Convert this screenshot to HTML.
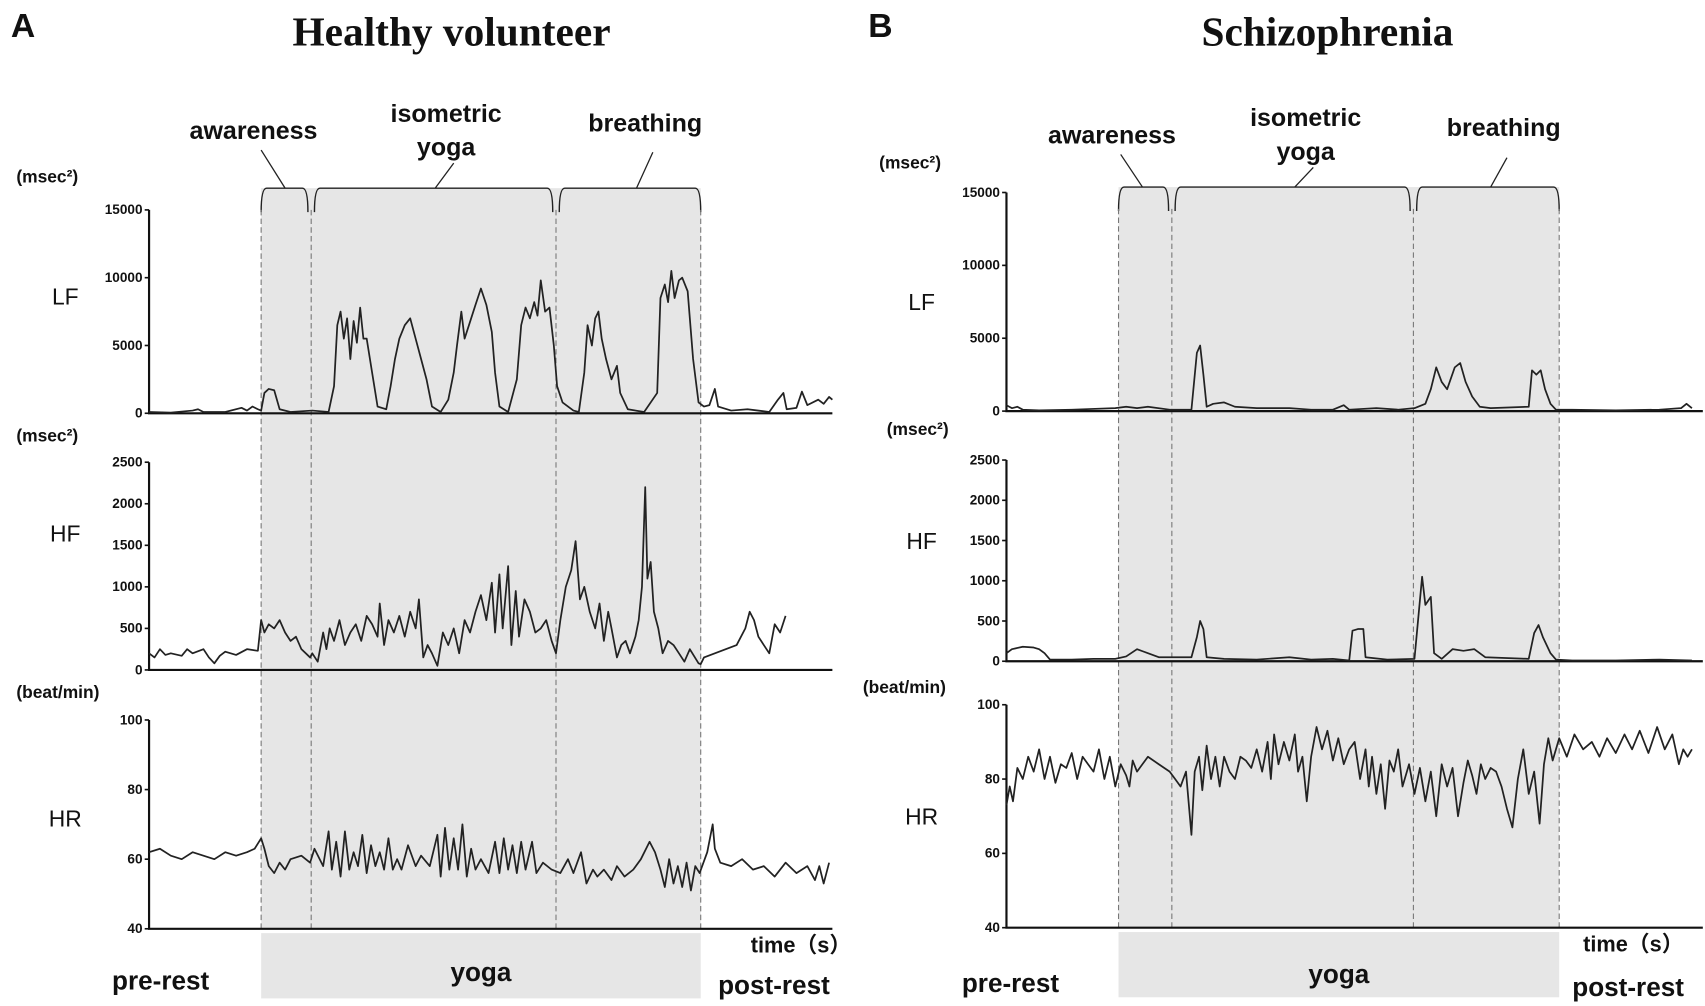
<!DOCTYPE html>
<html><head><meta charset="utf-8"><style>
html,body{margin:0;padding:0;background:#fff;}
svg{display:block;}
text{font-family:"Liberation Sans",Arial,sans-serif;}
</style></head><body>
<svg id="fig" width="1705" height="1006" viewBox="0 0 1567 925" preserveAspectRatio="none" xmlns="http://www.w3.org/2000/svg"></svg>
<script>
// ---- Data (time in s, LF in 10^3 msec^2, HF in msec^2, HR in beat/min) ----
const lfA_t=[0,20,40,45,50,70,85,90,95,100,103,106,110,115,120,130,150,165,170,173,176,179,182,185,188,191,194,197,200,205,210,218,222,226,230,235,240,245,250,255,260,268,275,280,283,287,290,294,300,305,310,315,318,322,330,338,342,346,350,354,357,360,364,368,372,375,380,390,395,400,403,407,410,413,416,420,425,430,433,440,455,467,470,474,477,480,483,487,490,495,500,505,510,515,520,523,535,550,570,578,583,586,595,600,605,615,620,625,628];
const lfA_v=[0.1,0.05,0.2,0.3,0.1,0.1,0.4,0.2,0.5,0.3,0.2,1.5,1.8,1.7,0.3,0.1,0.2,0.1,2,6.5,7.5,5.5,7,4,6.8,5.2,7.8,5.5,5.5,3,0.5,0.3,2,4,5.5,6.5,7,5.5,4,2.5,0.5,0.1,1,3,5,7.5,5.5,6.5,8,9.2,8,6,3,0.5,0.1,2.5,6.5,7.8,7,8.2,7.2,9.8,7.5,7.8,5,2,0.8,0.2,0.1,3,6.5,5,7,7.5,5.5,4,2.5,3.5,1.5,0.3,0.1,1.5,8.5,9.5,8.2,10.5,8.5,9.8,10,9,4,0.8,0.5,0.6,1.8,0.5,0.2,0.3,0.1,1,1.5,0.3,0.4,1.6,0.6,1.0,0.7,1.2,1.0];
const hfA_t=[0,5,10,15,20,30,35,40,50,55,60,65,70,80,90,100,103,106,110,115,120,125,130,135,140,148,150,155,160,163,166,170,175,180,185,190,195,200,205,210,212,216,220,225,230,235,240,245,248,252,256,260,265,270,275,280,285,290,295,300,305,310,315,318,322,325,330,333,337,340,345,350,355,360,365,370,374,378,383,388,392,396,400,405,410,414,418,422,425,430,434,438,442,447,450,453,456,458,461,464,468,472,477,482,487,492,497,505,507,510,520,530,540,548,552,556,560,565,570,575,580,585];
const hfA_v=[200,150,250,180,200,170,250,200,250,150,80,170,220,180,250,230,600,450,550,500,600,450,350,400,250,150,200,100,450,250,500,350,600,300,450,550,350,650,550,400,800,300,600,450,650,400,700,500,850,150,300,200,50,450,300,500,200,600,450,700,900,600,1050,450,1150,500,1250,300,950,400,850,700,450,500,600,350,200,600,1000,1200,1550,850,1000,700,500,800,350,700,500,150,300,350,200,400,600,1000,2200,1100,1300,700,500,200,350,300,200,100,250,80,70,150,200,250,300,500,700,600,400,300,200,550,450,650];
const hrA_t=[0,10,20,30,40,50,60,70,80,90,97,103,106,110,115,120,125,130,140,148,152,160,165,168,172,176,180,184,188,192,196,200,204,208,212,216,220,224,228,232,238,245,250,258,265,268,272,276,280,284,288,292,296,300,305,312,318,322,326,330,334,338,342,346,352,356,362,370,378,385,390,397,402,408,412,418,425,430,437,445,452,460,465,470,474,478,482,486,490,494,498,502,506,513,518,520,525,535,545,555,565,575,585,595,605,612,616,620,625];
const hrA_v=[62,63,61,60,62,61,60,62,61,62,63,66,63,58,56,59,57,60,61,59,63,58,68,57,65,55,68,57,62,58,67,56,64,58,62,57,66,57,60,57,64,58,61,58,67,55,69,57,66,57,70,55,63,57,60,56,65,56,66,57,64,56,65,57,65,56,59,57,56,60,56,62,53,57,55,57,54,58,55,57,60,65,62,57,52,60,53,58,52,59,51,58,56,62,70,63,59,58,60,57,58,55,59,56,58,54,58,53,59];
const lfB_t=[0,5,10,15,30,60,100,110,120,130,150,170,175,178,181,184,190,200,210,230,260,280,300,310,315,340,360,375,385,390,395,400,405,412,417,422,428,435,445,480,483,487,491,495,500,505,520,560,600,620,625,630];
const lfB_v=[0.4,0.2,0.3,0.1,0.05,0.1,0.2,0.3,0.2,0.3,0.1,0.1,4,4.5,2.5,0.3,0.5,0.6,0.3,0.2,0.2,0.1,0.1,0.4,0.1,0.2,0.1,0.2,0.5,1.5,3,2,1.5,3,3.3,2,1,0.3,0.2,0.3,2.8,2.5,2.8,1.5,0.5,0.1,0.1,0.05,0.1,0.2,0.5,0.2];
const hfB_t=[0,5,15,25,30,35,40,60,80,100,110,120,130,140,170,175,178,181,184,200,230,260,280,300,315,318,323,328,330,350,375,382,385,390,393,400,410,420,430,440,480,485,489,493,500,505,520,560,600,630];
const hfB_v=[100,150,180,170,150,100,20,20,30,30,60,150,100,50,50,300,500,400,50,30,20,50,20,30,10,380,400,400,50,20,30,1050,700,800,100,30,150,130,150,50,30,350,450,300,100,20,10,10,20,10];
const hrB_t=[0,3,6,10,15,20,25,30,35,40,45,50,55,60,65,70,75,80,85,90,95,100,105,110,113,116,120,130,140,150,155,160,165,170,173,177,180,184,188,192,196,200,205,210,215,220,225,230,235,240,243,246,250,255,260,265,268,272,276,280,285,290,295,300,305,310,315,320,325,330,333,336,340,344,348,352,356,360,364,370,375,380,385,390,395,400,405,410,415,420,424,428,432,436,440,445,450,455,460,465,470,475,480,485,490,494,498,502,508,515,522,530,538,545,552,560,568,575,582,590,598,605,612,618,622,626,630];
const hrB_v=[73,78,74,83,80,86,82,88,80,86,79,84,83,87,80,86,84,82,88,80,86,78,84,81,78,85,82,86,84,82,80,78,82,65,82,86,77,89,80,86,78,86,82,80,86,85,83,88,82,90,80,92,84,90,85,92,82,86,74,86,94,88,93,85,91,84,88,90,80,88,78,86,76,84,72,85,82,88,78,84,76,83,74,82,70,84,78,83,70,79,85,81,76,84,80,83,82,78,72,67,80,88,76,82,68,84,91,85,91,86,92,88,90,86,91,87,92,88,93,87,94,88,92,84,88,86,88];
const lfTicks=[0,5000,10000,15000];
const hfTicks=[0,500,1000,1500,2000,2500];
const hrTicks=[40,60,80,100];
const phaseNames=["awareness","isometric yoga","breathing"];

const NS="http://www.w3.org/2000/svg";
const svg=document.getElementById('fig');
function el(tag,attrs,parent){const e=document.createElementNS(NS,tag);for(const k in attrs)e.setAttribute(k,attrs[k]);(parent||svg).appendChild(e);return e;}
function txt(s,x,y,size,opts,parent){const t=el('text',Object.assign({x:x,y:y,'font-size':size,fill:'#111'},opts||{}),parent);t.textContent=s;return t;}

function panel(P){
  const g=el('g',{});
  
  
  const sh=el('rect',{x:P.s[0],y:P.brY,width:P.s[3]-P.s[0],height:P.hr.y0-P.brY,fill:'#e6e6e6'},g);
  
  
  const sb=el('rect',{x:P.s[0],y:P.hr.y0+4,width:P.s[3]-P.s[0],height:60,fill:'#e6e6e6'},g);
  
  
  for(let i=0;i<3;i++){
    const a=P.s[i]+(i?3:0), b=P.s[i+1]-(i<2?3:0);
    const d=`M${a},${P.brY+22} Q${a},${P.brY} ${a+5},${P.brY} L${b-5},${P.brY} Q${b},${P.brY} ${b},${P.brY+22}`;
    const br=el('path',{d:d,fill:'none',stroke:'#222','stroke-width':1.3},g);
    
    
  }
  P.s.forEach(x=>{const l=el('line',{x1:x,y1:P.brY+20,x2:x,y2:P.hr.y0,stroke:'#777','stroke-width':1,'stroke-dasharray':'5,3'},g);
    });
  P.lab.forEach((L,i)=>{
    L.txt.forEach((s,j)=>{const t=txt(s,L.x,L.y+j*31,23,{'text-anchor':'middle','font-weight':'bold'},g);
      });
    el('line',{x1:L.lx1,y1:L.ly1,x2:L.lx2,y2:P.brY,stroke:'#222','stroke-width':1.2},g);
  });
  const subs=[
    {c:P.lf,t:P.lfT,v:P.lfV,ticks:lfTicks,min:0,max:15000,k:1000,lab:'LF',unit:'(msec\u00B2)',n:'lf'},
    {c:P.hf,t:P.hfT,v:P.hfV,ticks:hfTicks,min:0,max:2500,k:1,lab:'HF',unit:'(msec\u00B2)',n:'hf'},
    {c:P.hr,t:P.hrT,v:P.hrV,ticks:hrTicks,min:40,max:100,k:1,lab:'HR',unit:'(beat/min)',n:'hr'}];
  subs.forEach(S=>{
    const c=S.c;
    const ys=v=>c.y0-(v-S.min)/(S.max-S.min)*(c.y0-c.y1);
    const xs=t=>P.x0+t;
    const ax=el('path',{d:`M${P.x0},${c.y1} L${P.x0},${c.y0} L${P.xEnd},${c.y0}`,fill:'none',stroke:'#111','stroke-width':2},g);
    
    S.ticks.forEach(tv=>{const y=ys(tv);
      el('line',{x1:P.x0-4,y1:y,x2:P.x0,y2:y,stroke:'#111','stroke-width':1.5},g);
      const t=txt(String(tv),P.x0-6,y+4,12.5,{'text-anchor':'end','font-weight':'bold'},g);
      });
    const lt=txt(S.lab,c.lx,c.ly,21,{'text-anchor':'middle'},g);
    
    const ut=txt(S.unit,c.ux,c.uy,16,{'font-weight':'bold'},g);
    
    let d='';
    S.t.forEach((tt,i)=>{d+=(i?'L':'M')+xs(tt).toFixed(1)+','+ys(S.v[i]*S.k).toFixed(1);});
    const ln=el('path',{d:d,fill:'none',stroke:'#222','stroke-width':1.6,'stroke-linejoin':'round'},g);
    
  });
  const tt=txt('time\uFF08s\uFF09',P.timeX,P.hr.y0+22,20,{'font-weight':'bold',style:'font-family:"Liberation Sans","Noto Sans CJK SC",sans-serif'},g);
  
  const pr=txt('pre-rest',P.preX,P.botY,24,{'font-weight':'bold'},g);
  
  const po=txt('post-rest',P.postX,P.botY+4,24,{'font-weight':'bold'},g);
  
  const yo=txt('yoga',(P.s[0]+P.s[3])/2,P.botY-8,24,{'font-weight':'bold','text-anchor':'middle'},g);
  
  const pl=txt(P.letter,P.letterX,34,31,{'font-weight':'bold'},g);
  
  const ti=txt(P.title,P.titleX,42,38,{'font-weight':'bold','text-anchor':'middle',style:'font-family:"Liberation Serif",serif'},g);
  
}

panel({name:'panel-healthy',letter:'A',letterX:10,title:'Healthy volunteer',titleX:415,
  x0:137,xEnd:765,s:[240,286,511,644],brY:173,
  lf:{y1:193,y0:380,lx:60,ly:280,ux:15,uy:168},
  hf:{y1:425,y0:616,lx:60,ly:498,ux:15,uy:406},
  hr:{y1:662,y0:854,lx:60,ly:760,ux:15,uy:642},
  lfT:lfA_t,lfV:lfA_v,hfT:hfA_t,hfV:hfA_v,hrT:hrA_t,hrV:hrA_v,
  lab:[{txt:['awareness'],x:233,y:128,lx1:240,ly1:138,lx2:262},
       {txt:['isometric','yoga'],x:410,y:112,lx1:417,ly1:150,lx2:400},
       {txt:['breathing'],x:593,y:121,lx1:600,ly1:140,lx2:585}],
  timeX:690,preX:103,postX:660,botY:910});
panel({name:'panel-schizophrenia',letter:'B',letterX:798,title:'Schizophrenia',titleX:1220,
  x0:925,xEnd:1565,s:[1028,1077,1299,1433],brY:172,
  lf:{y1:177,y0:378,lx:847,ly:285,ux:808,uy:155},
  hf:{y1:423,y0:608,lx:847,ly:505,ux:815,uy:400},
  hr:{y1:648,y0:853,lx:847,ly:758,ux:793,uy:637},
  lfT:lfB_t,lfV:lfB_v,hfT:hfB_t,hfV:hfB_v,hrT:hrB_t,hrV:hrB_v,
  lab:[{txt:['awareness'],x:1022,y:132,lx1:1030,ly1:142,lx2:1050},
       {txt:['isometric','yoga'],x:1200,y:116,lx1:1207,ly1:154,lx2:1190},
       {txt:['breathing'],x:1382,y:125,lx1:1385,ly1:145,lx2:1370}],
  timeX:1455,preX:884,postX:1445,botY:912});
</script>
</body></html>
